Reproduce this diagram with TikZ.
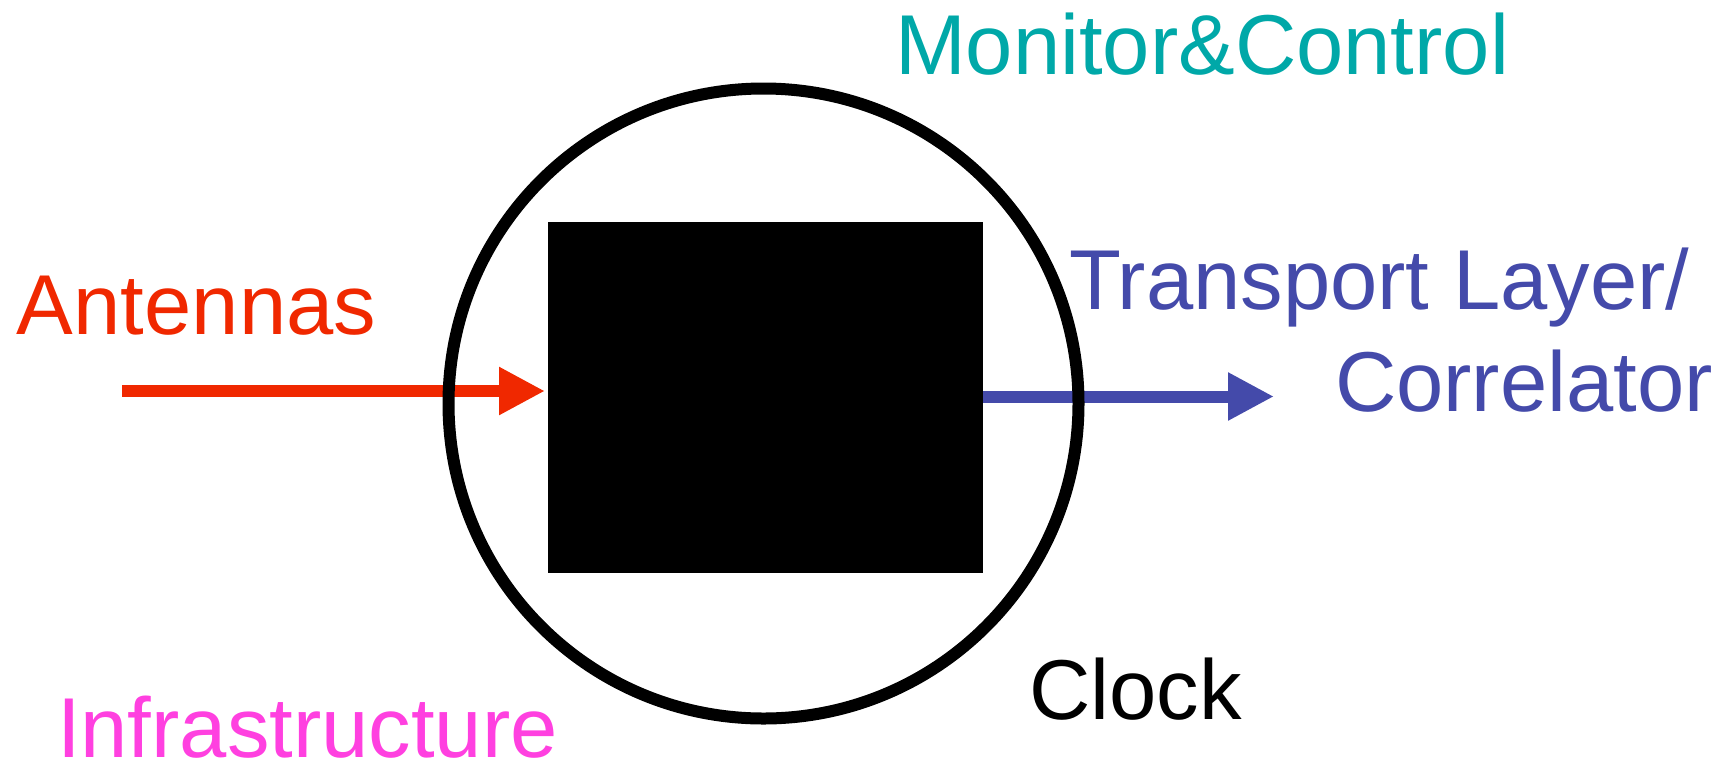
\documentclass[tikz,border=0pt]{standalone}
\usepackage{fontspec}
\setmainfont{Liberation Sans}
\usetikzlibrary{arrows.meta,calc}
\definecolor{antred}{RGB}{240,40,0}
\definecolor{trblue}{RGB}{68,74,170}
\definecolor{mcteal}{RGB}{0,168,168}
\definecolor{infmag}{RGB}{255,64,224}
\tikzset{
  lbl/.style={inner sep=0pt, outer sep=0pt, font=\fontsize{42.5}{51}\selectfont},
  bigarrow/.style={line width=6pt, -{Triangle[length=23pt,width=22.5pt]}},
}
\begin{document}
\begin{tikzpicture}[x=0.5pt,y=-0.5pt]
\useasboundingbox (0,0) rectangle (1735,762);
% black box
\node[fill=black, inner sep=0pt, outer sep=0pt, minimum width=217.5pt, minimum height=175.5pt, anchor=north west] (box) at (548,222) {};
% arrows
\coordinate (redstart) at (122,391);
\coordinate (blueend) at (1274,396.5);
\draw[bigarrow, antred, shorten >=1.5pt] (redstart) -- (redstart -| box.west);
\draw[bigarrow, trblue] (box.east |- blueend) -- (blueend);
% circle
\node[circle, draw=black, line width=6pt, minimum size=315pt, inner sep=0pt] (ring) at (763.5,403.5) {};
% labels
\node[lbl, antred, anchor=base west] (ant) at (17,334) {Antennas};
\node[lbl, mcteal, anchor=base west] (mc) at (895,74) {Monitor\&Control};
\node[lbl, trblue, anchor=base west] (tl) at (1069,309) {Transport Layer/};
\node[lbl, trblue, anchor=base west] (corr) at (1335,411) {Correlator};
\node[lbl, infmag, anchor=base west] (inf) at (57,757) {Infrastructure};
\node[lbl, black, anchor=base west] (clk) at (1029,719) {Clock};
\end{tikzpicture}
\end{document}
